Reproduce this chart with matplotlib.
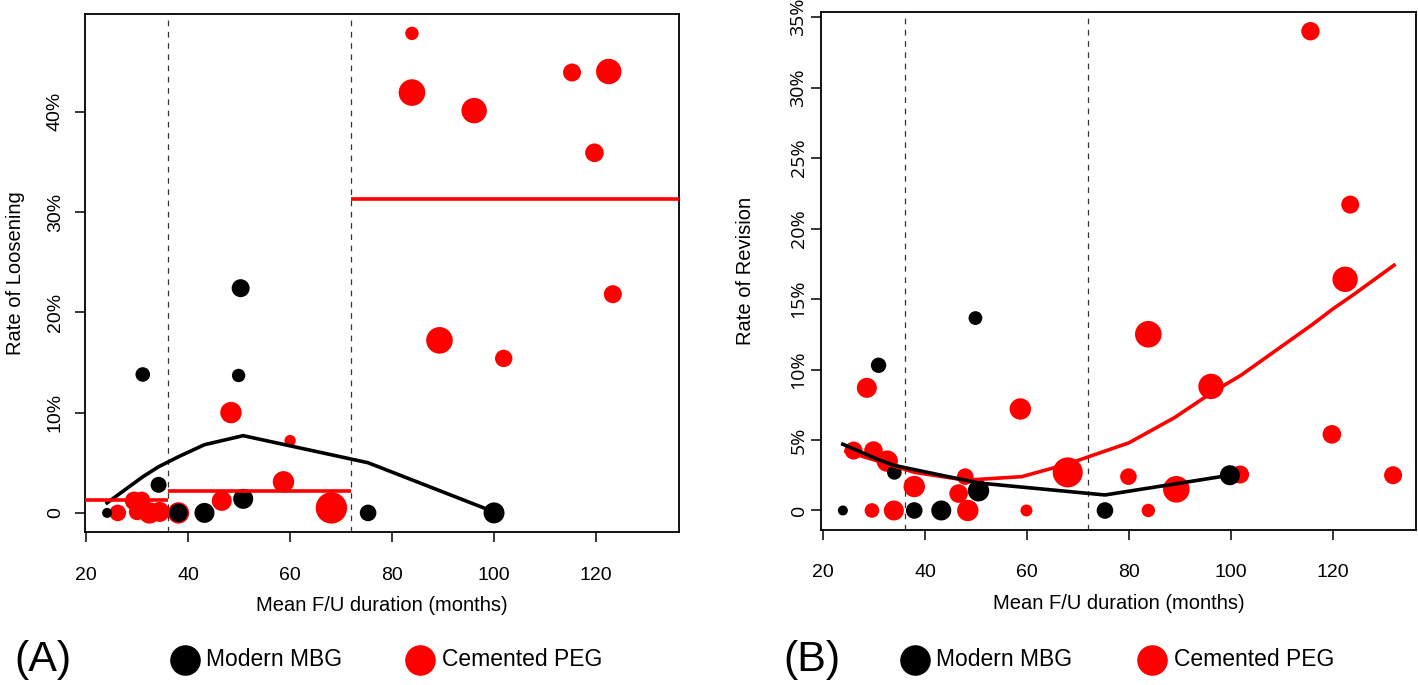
import matplotlib
matplotlib.use('Agg')
import matplotlib.pyplot as plt
from matplotlib.lines import Line2D

plt.rcParams['font.family'] = ['Liberation Sans', 'DejaVu Sans']

RED = '#ff0000'

# ---- panel A: rate of loosening ----
a_mbg_fu = [24.1, 31.1, 34.2, 38.1, 43.2, 49.9, 50.3, 50.8, 75.3, 100.0]
a_mbg_rate = [0, 13.8, 2.8, 0, 0, 13.7, 22.4, 1.4, 0, 0]
a_mbg_cex = [0.50, 0.73, 0.80, 0.93, 1.00, 0.67, 0.90, 1.00, 0.83, 1.05]

a_peg_fu = [26.2, 29.4, 30.9, 30.0, 32.4, 34.4, 38.1, 46.6, 48.4, 58.7, 60.0,
            68.1, 83.9, 83.9, 89.3, 96.1, 101.9, 115.3, 119.7, 122.5, 123.3]
a_peg_rate = [0, 1.2, 1.3, 0.1, 0, 0.1, 0, 1.2, 10.0, 3.1, 7.2,
              0.5, 47.8, 41.9, 17.2, 40.1, 15.4, 43.9, 35.9, 44.0, 21.8]
a_peg_cex = [0.83, 0.93, 0.83, 0.83, 1.07, 1.00, 1.07, 1.00, 1.07, 1.07, 0.57,
             1.57, 0.67, 1.33, 1.33, 1.27, 0.87, 0.90, 0.93, 1.27, 0.90]

# trend of MBG loosening
a_mbg_fit_x = [24.1, 31.1, 34.2, 38.1, 43.2, 50.8, 75.3, 100.0]
a_mbg_fit_y = [1.0, 3.6, 4.6, 5.6, 6.8, 7.7, 5.0, 0.1]

# PEG group means per follow-up band
a_peg_band_lo = [0, 36, 72]
a_peg_band_hi = [36, 72, 160]
a_peg_band_mean = [1.25, 2.2, 31.3]

# ---- panel B: rate of revision ----
b_mbg_fu = [23.9, 30.9, 34.0, 37.9, 43.2, 49.9, 50.5, 75.3, 99.8]
b_mbg_rate = [0, 10.3, 2.7, 0, 0, 13.65, 1.4, 0, 2.5]
b_mbg_cex = [0.50, 0.77, 0.73, 0.83, 1.00, 0.69, 1.07, 0.83, 1.00]

b_peg_fu = [26.0, 28.6, 29.6, 29.9, 32.6, 33.9, 37.9, 46.6, 47.9, 48.4, 58.7,
            59.9, 68.0, 79.9, 83.8, 83.8, 89.3, 96.1, 101.8, 115.6, 119.8,
            122.4, 123.4, 131.8]
b_peg_rate = [4.25, 8.7, 0, 4.25, 3.5, 0, 1.7, 1.2, 2.4, 0, 7.2,
              0, 2.7, 2.4, 12.5, 0, 1.5, 8.8, 2.55, 34.0, 5.4,
              16.4, 21.7, 2.5]
b_peg_cex = [0.90, 1.00, 0.73, 0.93, 1.07, 1.00, 1.07, 0.93, 0.83, 1.07, 1.07,
             0.60, 1.50, 0.83, 1.33, 0.67, 1.33, 1.27, 0.90, 0.92, 0.93,
             1.27, 0.90, 0.90]

b_mbg_fit_x = [23.9, 30.9, 34.0, 37.9, 43.2, 49.9, 50.5, 75.3, 99.8]
b_mbg_fit_y = [4.7, 3.6, 3.2, 2.9, 2.5, 2.0, 1.95, 1.1, 2.5]

b_peg_fit_x = [24.5, 29, 32.6, 38, 48, 59, 68, 80, 84, 89, 96, 102, 116, 120, 124, 132]
b_peg_fit_y = [4.2, 3.7, 3.3, 2.7, 2.15, 2.4, 3.3, 4.8, 5.6, 6.6, 8.3, 9.6,
               13.2, 14.3, 15.3, 17.4]

cutoffs = [36, 72]
xticks = [20, 40, 60, 80, 100, 120]
a_yticks = [0, 10, 20, 30, 40]
b_yticks = [0, 5, 10, 15, 20, 25, 30, 35]


def msize(cex):
    return [(c * 14.4) ** 2 for c in cex]


def style_axes(ax, yticks, ylim, ylabel, tickfont, ylabelpad):
    ax.set_xlim(19.7, 136.3)
    ax.set_ylim(*ylim)
    ax.set_xticks(xticks)
    ax.set_yticks(yticks)
    ax.set_yticklabels(['0'] + ['%d%%' % t for t in yticks[1:]],
                       rotation=90, va='center', **tickfont)
    for s in ax.spines.values():
        s.set_linewidth(1.3)
    ax.tick_params(direction='out', length=7, width=1.1, labelsize=14)
    ax.tick_params(axis='x', pad=18)
    ax.set_xlabel('Mean F/U duration (months)', fontsize=14.5, labelpad=9)
    ax.set_ylabel(ylabel, fontsize=14.5, labelpad=ylabelpad)
    for c in cutoffs:
        ax.axvline(c, color='#333333', lw=0.9, ls=(0, (4.5, 4.5)), zorder=1)


fig = plt.figure(figsize=(14.18, 6.85), dpi=100)

axA = fig.add_axes([0.0597, 0.2234, 0.4192, 0.7557])
axA.scatter(a_peg_fu, a_peg_rate, s=msize(a_peg_cex), color=RED, lw=0, zorder=2)
axA.scatter(a_mbg_fu, a_mbg_rate, s=msize(a_mbg_cex), color='black', lw=0, zorder=3)
axA.plot(a_mbg_fit_x, a_mbg_fit_y, color='black', lw=2.6, zorder=4)
axA.hlines(a_peg_band_mean, a_peg_band_lo, a_peg_band_hi, color=RED, lw=2.6, zorder=4)
axA.tick_params(axis='y', pad=8)
style_axes(axA, a_yticks, (-1.9, 49.7), 'Rate of Loosening', {}, 16)

axB = fig.add_axes([0.5793, 0.2268, 0.4193, 0.7556])
axB.scatter(b_peg_fu, b_peg_rate, s=msize(b_peg_cex), color=RED, lw=0, zorder=2)
axB.scatter(b_mbg_fu, b_mbg_rate, s=msize(b_mbg_cex), color='black', lw=0, zorder=3)
axB.plot(b_peg_fit_x, b_peg_fit_y, color=RED, lw=2.6, zorder=4)
axB.plot(b_mbg_fit_x, b_mbg_fit_y, color='black', lw=2.6, zorder=4)
axB.tick_params(axis='y', pad=3)
style_axes(axB, b_yticks, (-1.36, 35.36), 'Rate of Revision',
           {'family': ['Open Sans', 'DejaVu Sans'], 'fontsize': 10}, 25)

# bottom legend rows
leg_y = 1 - 660 / 685
for tag, xt, xm1, xm2 in [('(A)', 14, 185, 420), ('(B)', 783, 915, 1152)]:
    fig.text(xt / 1418, leg_y, tag, fontsize=31, ha='left', va='center')
    fig.add_artist(Line2D([xm1 / 1418], [leg_y], marker='o', ms=21, color='black',
                          lw=0, transform=fig.transFigure))
    fig.text((xm1 + 21) / 1418, leg_y, 'Modern MBG', fontsize=16.5, ha='left', va='center')
    fig.add_artist(Line2D([xm2 / 1418], [leg_y], marker='o', ms=21, color=RED,
                          lw=0, transform=fig.transFigure))
    fig.text((xm2 + 22) / 1418, leg_y, 'Cemented PEG', fontsize=16.5, ha='left', va='center')

fig.savefig('out.png', dpi=100)
